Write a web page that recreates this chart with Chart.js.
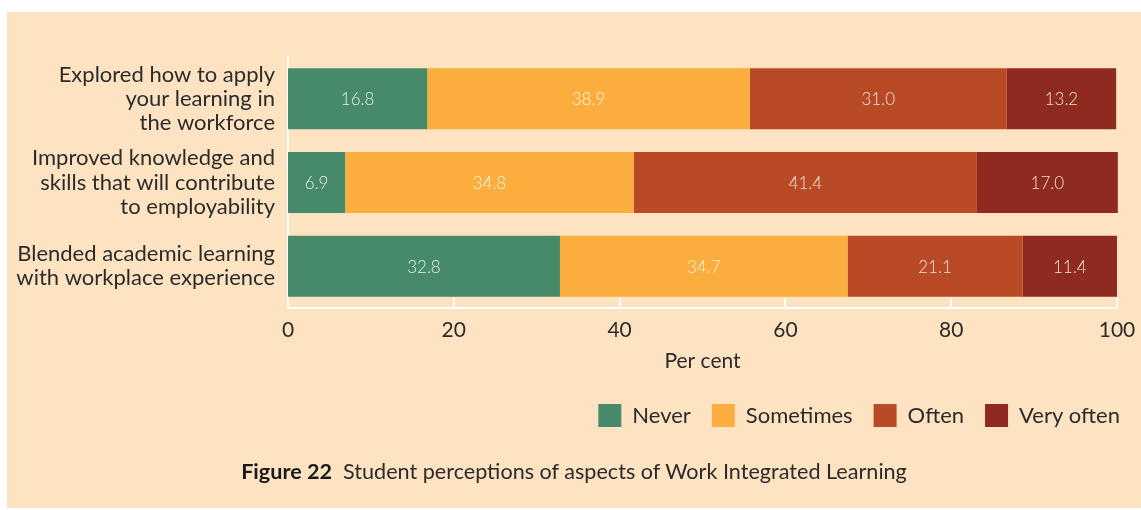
<!DOCTYPE html>
<html>
<head>
<meta charset="utf-8">
<script src="https://cdn.jsdelivr.net/npm/chart.js@4/dist/chart.umd.min.js"></script>
<style>
  html, body { margin: 0; padding: 0; background: #ffffff; width: 1141px; height: 510px; overflow: hidden; }
  #panel { position: absolute; left: 7px; top: 12px; width: 1134px; height: 496px; background: #FEE3C2; }
  #wrap { position: absolute; left: 0; top: 0; width: 1141px; height: 510px; }
  #caption { position: absolute; left: 7px; width: 1134px; top: 459px; text-align: center;
    font-family: Lato, "Open Sans", sans-serif; font-size: 21.6px; line-height: 24px; color: #2b2b2b; }
  #caption b { font-weight: bold; color: #1a1a1a; }
</style>
</head>
<body>
<div id="panel"></div>
<div id="wrap"><canvas id="c" width="1141" height="510"></canvas></div>
<div id="caption"><b>Figure 22</b>&nbsp;&nbsp;Student perceptions of aspects of Work Integrated Learning</div>
<script>
const categories = [
  ["Explored how to apply", "your learning in", "the workforce"],
  ["Improved knowledge and", "skills that will contribute", "to employability"],
  ["Blended academic learning", "with workplace experience"]
];
const seriesNames = ["Never", "Sometimes", "Often", "Very often"];
const never = [16.8, 6.9, 32.8];
const sometimes = [38.9, 34.8, 34.7];
const often = [31.0, 41.4, 21.1];
const veryOften = [13.2, 17.0, 11.4];
const xTicks = [0, 20, 40, 60, 80, 100];
const colors = ["#468A69", "#FBAE3D", "#B84A25", "#8E2B1E"];

const FONT = "Lato, 'Open Sans', sans-serif";
const TEXT = "#2b2b2b";

const seriesValues = [never, sometimes, often, veryOften];

const valueLabels = {
  id: "valueLabels",
  afterDatasetsDraw(chart) {
    const ctx = chart.ctx;
    ctx.save();
    ctx.font = "300 17px " + FONT;
    ctx.fillStyle = "rgba(255,255,255,0.85)";
    ctx.textAlign = "center";
    ctx.textBaseline = "middle";
    chart.data.datasets.forEach((ds, i) => {
      const meta = chart.getDatasetMeta(i);
      meta.data.forEach((bar, j) => {
        const v = ds.data[j];
        ctx.fillText(v.toFixed(1), (bar.x + bar.base) / 2, bar.y + 1);
      });
    });
    ctx.restore();
  }
};

const innerTicks = {
  id: "innerTicks",
  afterDraw(chart) {
    const xs = chart.scales.x;
    const ctx = chart.ctx;
    const b = chart.chartArea.bottom;
    ctx.save();
    ctx.strokeStyle = "#ffffff";
    ctx.lineWidth = 2;
    xTicks.forEach(t => {
      const px = Math.round(xs.getPixelForValue(t));
      ctx.beginPath();
      ctx.moveTo(px, b);
      ctx.lineTo(px, b - 10);
      ctx.stroke();
    });
    ctx.restore();
  }
};

new Chart(document.getElementById("c"), {
  type: "bar",
  data: {
    labels: categories,
    datasets: seriesNames.map((n, i) => ({
      label: n,
      data: seriesValues[i],
      backgroundColor: colors[i],
      borderWidth: 0,
      categoryPercentage: 1,
      barPercentage: 0.73,
      clip: false
    }))
  },
  options: {
    indexAxis: "y",
    responsive: false,
    animation: false,
    devicePixelRatio: 1,
    layout: { padding: { top: 57, left: 0, right: 0, bottom: 73 } },
    scales: {
      x: {
        stacked: true,
        min: 0,
        max: 100,
        afterBuildTicks(s) { s.ticks = xTicks.map(v => ({ value: v })); },
        ticks: { color: TEXT, font: { family: FONT, size: 21 }, padding: 10 },
        grid: { display: false, drawTicks: false, tickLength: 0 },
        border: { display: true, color: "#ffffff", width: 2 },
        title: { display: true, text: "Per cent", color: TEXT, font: { family: FONT, size: 21 }, padding: { top: 0, bottom: 9 } },
        afterFit(s) { s.height = 75; s.paddingLeft = 0; s.paddingRight = 0; }
      },
      y: {
        stacked: true,
        ticks: { color: TEXT, font: { family: FONT, size: 22, lineHeight: 1.1 }, padding: 13 },
        grid: { display: false, drawTicks: false, tickLength: 0 },
        border: { display: true, color: "#ffffff", width: 2 },
        afterFit(s) { s.width = 288; s.paddingTop = 0; s.paddingBottom = 0; }
      },
      yR: {
        type: "linear",
        axis: "y",
        position: "right",
        display: true,
        ticks: { display: false },
        grid: { display: false, drawTicks: false },
        border: { display: false },
        afterFit(s) { s.width = 24; s.paddingTop = 0; s.paddingBottom = 0; }
      }
    },
    plugins: {
      legend: {
        position: "bottom",
        align: "end",
        labels: {
          color: TEXT,
          font: { family: FONT, size: 22 },
          boxWidth: 23,
          boxHeight: 23,
          padding: 21
        }
      },
      tooltip: { enabled: false }
    }
  },
  plugins: [valueLabels, innerTicks]
});
</script>
</body>
</html>
